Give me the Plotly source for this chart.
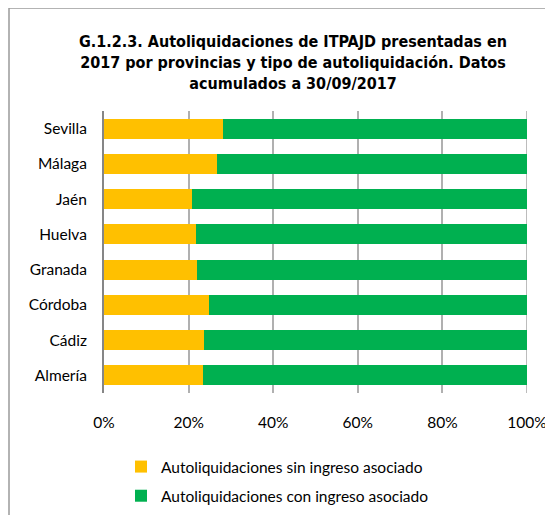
import plotly.graph_objects as go

provincias = ["Sevilla", "Málaga", "Jaén", "Huelva", "Granada", "Córdoba", "Cádiz", "Almería"]
sin_ingreso = [28.1, 26.6, 20.7, 21.8, 22.0, 24.9, 23.7, 23.4]
con_ingreso = [round(100 - v, 1) for v in sin_ingreso]
x_ticks = [0, 20, 40, 60, 80, 100]
x_tick_labels = ["0%", "20%", "40%", "60%", "80%", "100%"]

# page body has an 8px default margin; figure is sized/offset to compensate
OFF = 8
W, H = 553 - OFF, 515 - OFF
L, R, T, B = 104 - OFF, 26, 111 - OFF, 122
pw = W - L - R
ph = H - T - B


def px(xpix):  # reference-page x pixel -> paper x
    return (xpix - OFF - L) / pw


def py(ypix):  # reference-page y pixel -> paper y
    return (H - B - (ypix - OFF)) / ph


fig = go.Figure()
fig.add_trace(go.Bar(
    y=provincias, x=sin_ingreso, orientation="h",
    name="Autoliquidaciones sin ingreso asociado",
    marker=dict(color="#FFC000", line=dict(width=0)),
    legendgroup="a",
))
fig.add_trace(go.Bar(
    y=provincias, x=con_ingreso, orientation="h",
    name="Autoliquidaciones con ingreso asociado",
    marker=dict(color="#00B050", line=dict(width=0)),
    legendgroup="b",
))

font_main = "Lato, Carlito, Calibri, sans-serif"
FS = 15.5

fig.update_layout(
    width=W, height=H,
    margin=dict(l=L, r=R, t=T, b=B, autoexpand=False),
    barmode="stack",
    bargap=0.43,
    plot_bgcolor="white",
    paper_bgcolor="white",
    font=dict(family=font_main, size=FS, color="#000000"),
    xaxis=dict(
        range=[0, 100], tickvals=x_ticks, ticktext=x_tick_labels,
        showgrid=True, gridcolor="#B0B0B0", gridwidth=1.5,
        zeroline=False, showline=False, ticks="",
        ticklabelstandoff=18,
        tickfont=dict(family=font_main, size=FS, color="#000000"),
        fixedrange=True,
    ),
    yaxis=dict(
        autorange="reversed", showgrid=False, zeroline=False,
        showline=True, linecolor="#868686", linewidth=2, ticks="",
        ticklabelstandoff=12,
        tickfont=dict(family=font_main, size=FS, color="#000000"),
    ),
    showlegend=True,
    legend=dict(
        orientation="v", x=px(121), xanchor="left",
        y=py(450), yanchor="top",
        traceorder="grouped", tracegroupgap=6,
        font=dict(family=font_main, size=FS, color="#000000"),
        itemwidth=30, bgcolor="rgba(0,0,0,0)",
    ),
    annotations=[dict(
        text="<b>G.1.2.3. Autoliquidaciones de ITPAJD presentadas en</b><br><b>2017 por provincias y tipo de autoliquidación. Datos</b><br><b>acumulados a 30/09/2017</b>",
        xref="paper", yref="paper",
        x=px(293), y=py(63),
        xanchor="center", yanchor="middle", align="center",
        showarrow=False,
        font=dict(family="Liberation Sans Narrow, Arial Narrow, DejaVu Sans Condensed, sans-serif",
                  size=16, color="#000000"),
    )],
    shapes=[
        dict(type="line", xref="x", yref="paper",
             x0=100, x1=100, y0=0, y1=1, layer="below",
             line=dict(color="#A6A6A6", width=1.5)),
        dict(type="line", xref="paper", yref="paper",
             x0=px(9), x1=px(560),
             y0=py(8), y1=py(8),
             line=dict(color="#9A9A9A", width=1.5)),
        dict(type="line", xref="paper", yref="paper",
             x0=px(9), x1=px(9),
             y0=py(8), y1=py(520),
             line=dict(color="#9A9A9A", width=1.5)),
    ],
)

fig.write_html("out.html")
